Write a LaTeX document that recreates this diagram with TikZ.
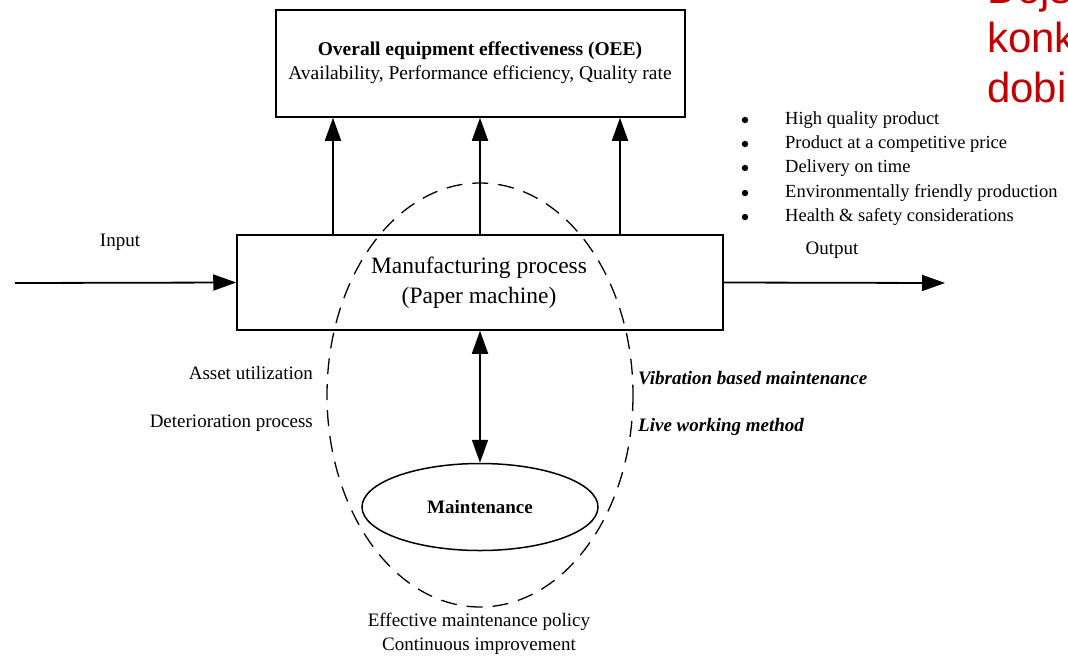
\documentclass[tikz,border=0pt]{standalone}
\usepackage{fontspec}
\setmainfont{Liberation Serif}
\newfontfamily\redsans{Liberation Sans}
\usetikzlibrary{arrows.meta,shapes.geometric}
\definecolor{redtxt}{RGB}{192,0,0}
\tikzset{
  box/.style={draw,line width=1.5pt,fill=white},
  tip/.style={Triangle[length=23pt,width=16pt]},
  conn/.style={line width=1.8pt,-{Triangle[length=23pt,width=16pt]}},
  lbl/.style={font=\fontsize{19}{22}\selectfont,inner sep=0pt},
  ital/.style={font=\fontsize{19}{22}\selectfont\bfseries\itshape,inner sep=0pt,anchor=west},
  bul/.style={font=\fontsize{18.5}{22}\selectfont,inner sep=0pt,anchor=west},
  red/.style={font=\redsans\fontsize{42}{48}\selectfont,text=redtxt,inner sep=0pt,anchor=base west},
}
\begin{document}
\begin{tikzpicture}[x=1pt,y=-1pt]
\useasboundingbox (0,0) rectangle (1068,656);
\begin{scope}
\clip (0,0) rectangle (1068,656);
% boxes
\node[box,minimum width=409pt,minimum height=107pt,inner sep=0pt] (oee) at (480.5,63.5) {};
\node[font=\fontsize{19.5}{24}\selectfont,align=center,inner sep=0pt] (oeetxt) at (480,63)
  {\textbf{Overall equipment effectiveness (OEE)}\\Availability, Performance efficiency, Quality rate};
\node[box,minimum width=486pt,minimum height=95pt,inner sep=0pt] (mp) at (480,282.5) {};
% dashed ellipse
\draw[dash pattern=on 16pt off 10pt,line width=1.3pt] (480,395) ellipse [x radius=153, y radius=212];
\node[font=\fontsize{23.5}{30}\selectfont,align=center,inner sep=0pt] (mptxt) at (479,283)
  {Manufacturing process\\(Paper machine)};
% maintenance ellipse
\node[draw,ellipse,line width=1.5pt,fill=white,minimum width=236pt,minimum height=87pt,inner sep=0pt,font=\fontsize{19}{22}\selectfont\bfseries] (mt) at (480,507) {Maintenance};
% coordinates
\coordinate (in) at (15,283);
\coordinate (out) at (945,283);
% arrows
\draw[conn] (in) -- (mp.west);
\draw[conn] (mp.east) -- (out);
\draw[conn] (mp.north -| 333,0) -- (oee.south -| 333,0);
\draw[conn] (mp.north) -- (oee.south -| mp.north);
\draw[conn] (mp.north -| 620,0) -- (oee.south -| 620,0);
\draw[line width=1.8pt,{Triangle[length=23pt,width=16pt]}-{Triangle[length=23pt,width=16pt]}] (mp.south) -- (mt.north);
% labels
\node[lbl] (input) at (120,242) {Input};
\node[lbl] (output) at (832,250) {Output};
\node[lbl,anchor=east] (asset) at (313,373) {Asset utilization};
\node[lbl,anchor=east] (deter) at (313,423) {Deterioration process};
\node[ital] (vib) at (638,378) {Vibration based maintenance};
\node[ital] (live) at (638,427) {Live working method};
\node[lbl,align=center,font=\fontsize{19}{24}\selectfont] (eff) at (479,634) {Effective maintenance policy\\Continuous improvement};
% bullets
\foreach \yy/\tt [count=\i] in {120/High quality product,144/Product at a competitive price,168/Delivery on time,193/Environmentally friendly production,217/Health \& safety considerations}{
  \fill (745,\yy) circle (3.2pt);
  \node[bul] (b\i) at (785,\yy) {\tt};
}
% red text
\node[red] (r1) at (987,3) {Dojś};
\node[red] (r2) at (987,52) {konk};
\node[red] (r3) at (987,102) {dobi};
\end{scope}
\end{tikzpicture}
\end{document}
